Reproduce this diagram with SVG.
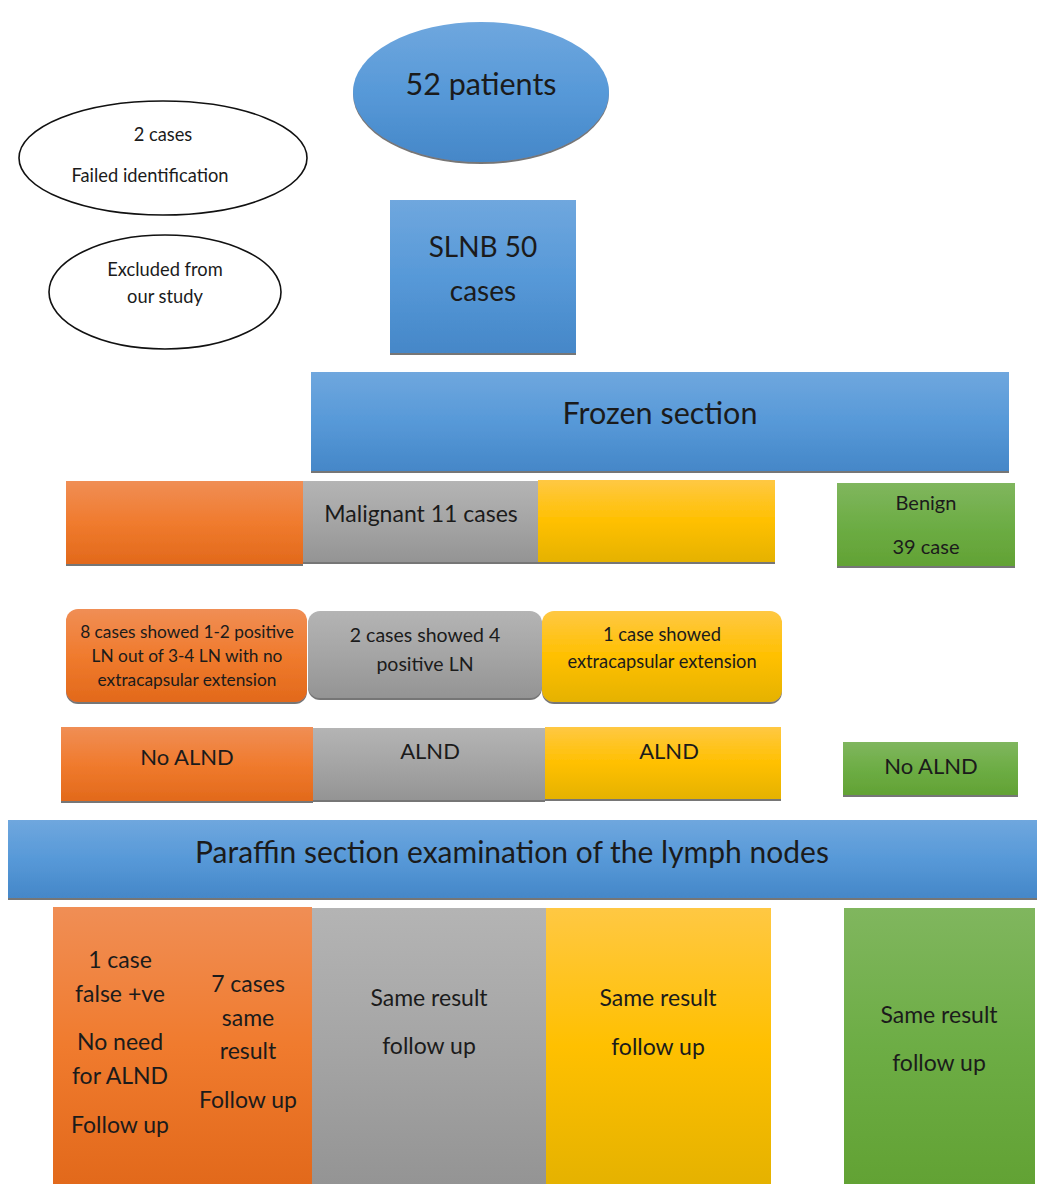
<svg xmlns="http://www.w3.org/2000/svg" width="1037" height="1184" viewBox="0 0 1037 1184">
<defs>
<linearGradient id="gBlue" x1="0" y1="0" x2="0" y2="1"><stop offset="0" stop-color="#6FA7DE"/><stop offset="0.5" stop-color="#5799D8"/><stop offset="1" stop-color="#4587C8"/></linearGradient>
<linearGradient id="gOrange" x1="0" y1="0" x2="0" y2="1"><stop offset="0" stop-color="#F08E55"/><stop offset="0.5" stop-color="#F07B2E"/><stop offset="1" stop-color="#E2691B"/></linearGradient>
<linearGradient id="gGray" x1="0" y1="0" x2="0" y2="1"><stop offset="0" stop-color="#B4B4B4"/><stop offset="0.5" stop-color="#A5A5A5"/><stop offset="1" stop-color="#949494"/></linearGradient>
<linearGradient id="gYellow" x1="0" y1="0" x2="0" y2="1"><stop offset="0" stop-color="#FFC843"/><stop offset="0.5" stop-color="#FFC000"/><stop offset="1" stop-color="#E5B200"/></linearGradient>
<linearGradient id="gGreen" x1="0" y1="0" x2="0" y2="1"><stop offset="0" stop-color="#80B65E"/><stop offset="0.5" stop-color="#6DAD45"/><stop offset="1" stop-color="#62A234"/></linearGradient>
<filter id="sh" x="-5%" y="-5%" width="110%" height="115%"><feDropShadow dx="0" dy="2" stdDeviation="0.6" flood-color="#555" flood-opacity="0.8"/></filter>
</defs>
<style>
text{font-family:Lato,"Open Sans","Liberation Sans",sans-serif;fill:#1b1b1b;text-anchor:middle}
.b{filter:url(#sh)}
.ol{fill:#fff;stroke:#111;stroke-width:1.6}
.t30{font-size:30.5px}
.t28{font-size:28px}
.t23{font-size:23px}
.t22{font-size:22px}
.t20{font-size:20px}
.t19{font-size:19.5px}
.t18{font-size:18.3px}
.t17{font-size:17px}
.t15{font-size:17.3px}
</style>
<rect width="1037" height="1184" fill="#fff"/>

<g id="patients"><ellipse class="b" cx="481" cy="92" rx="128" ry="70" fill="url(#gBlue)"/><text class="t30" x="481" y="95">52 patients</text></g>
<g id="failed"><ellipse class="ol" cx="163" cy="158" rx="144" ry="57"/><text class="t18" x="163" y="141">2 cases</text><text class="t18" x="150" y="182">Failed identification</text></g>
<g id="excluded"><ellipse class="ol" cx="165" cy="292" rx="116" ry="57"/><text class="t18" x="165" y="276">Excluded from</text><text class="t18" x="165" y="303">our study</text></g>
<g id="slnb"><rect class="b" x="390" y="200" width="186" height="153" fill="url(#gBlue)"/><text class="t28" x="483" y="257">SLNB 50</text><text class="t28" x="483" y="301">cases</text></g>
<g id="frozen"><rect class="b" x="311" y="372" width="698" height="99" fill="url(#gBlue)"/><text class="t30" x="660" y="424">Frozen section</text></g>

<g id="malignant">
<rect class="b" x="66" y="481" width="237" height="83" fill="url(#gOrange)"/>
<rect class="b" x="303" y="481" width="235" height="81" fill="url(#gGray)"/>
<rect class="b" x="538" y="480" width="237" height="82" fill="url(#gYellow)"/>
<text class="t23" x="421" y="522">Malignant 11 cases</text></g>
<g id="benign"><rect class="b" x="837" y="483" width="178" height="83" fill="url(#gGreen)"/><text class="t20" x="926" y="510">Benign</text><text class="t20" x="926" y="554">39 case</text></g>

<g id="res8"><rect class="b" x="66" y="609" width="241" height="93" rx="12" fill="url(#gOrange)"/><text class="t15" x="187" y="638">8 cases showed 1-2 positive</text><text class="t15" x="187" y="662">LN out of 3-4 LN with no</text><text class="t15" x="187" y="686">extracapsular extension</text></g>
<g id="res2"><rect class="b" x="308" y="611" width="234" height="87" rx="12" fill="url(#gGray)"/><text class="t19" x="425" y="642">2 cases showed 4</text><text class="t19" x="425" y="671">positive LN</text></g>
<g id="res1"><rect class="b" x="542" y="611" width="240" height="91" rx="12" fill="url(#gYellow)"/><text class="t18" x="662" y="641">1 case showed</text><text class="t18" x="662" y="668">extracapsular extension</text></g>

<g id="alnd">
<rect class="b" x="61" y="727" width="252" height="74" fill="url(#gOrange)"/>
<rect class="b" x="313" y="728" width="232" height="72" fill="url(#gGray)"/>
<rect class="b" x="545" y="727" width="236" height="72" fill="url(#gYellow)"/>
<text class="t22" x="187" y="765">No ALND</text><text class="t22" x="430" y="759">ALND</text><text class="t22" x="669" y="759">ALND</text></g>
<g id="noalnd"><rect class="b" x="843" y="742" width="175" height="53" fill="url(#gGreen)"/><text class="t22" x="931" y="774">No ALND</text></g>

<g id="paraffin"><rect class="b" x="8" y="820" width="1029" height="78" fill="url(#gBlue)"/><text class="t30" x="512" y="863" style="font-size:30px">Paraffin section examination of the lymph nodes</text></g>

<g id="final">
<rect x="53" y="907" width="259" height="277" fill="url(#gOrange)"/>
<rect x="312" y="908" width="234" height="276" fill="url(#gGray)"/>
<rect x="546" y="908" width="225" height="276" fill="url(#gYellow)"/>
<rect x="844" y="908" width="191" height="276" fill="url(#gGreen)"/>
<g class="t23">
<text x="120" y="968">1 case</text><text x="120" y="1002">false +ve</text><text x="120" y="1050">No need</text><text x="120" y="1084">for ALND</text><text x="120" y="1133">Follow up</text>
<text x="248" y="992">7 cases</text><text x="248" y="1026">same</text><text x="248" y="1059">result</text><text x="248" y="1108">Follow up</text>
<text x="429" y="1006">Same result</text><text x="429" y="1054">follow up</text>
<text x="658" y="1006">Same result</text><text x="658" y="1055">follow up</text>
<text x="939" y="1023">Same result</text><text x="939" y="1071">follow up</text>
</g></g>
<g id="connectors"></g>
</svg>
